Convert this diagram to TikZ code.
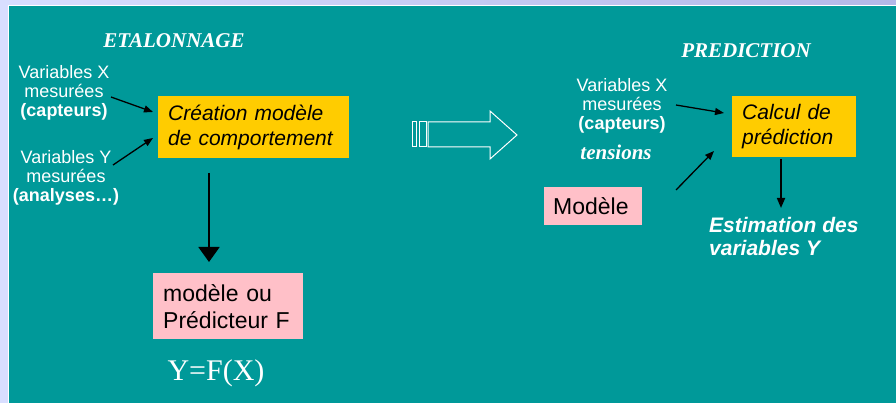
\documentclass[tikz,border=0pt]{standalone}
\usepackage{fontspec}
\setmainfont{Liberation Serif}
\setsansfont{Liberation Sans}
\usetikzlibrary{arrows.meta,calc}
\definecolor{teal0}{HTML}{009999}
\definecolor{lav}{HTML}{D8DEFF}
\definecolor{lavdark}{HTML}{B4B8E8}
\definecolor{ybox}{HTML}{FFCC00}
\definecolor{pbox}{HTML}{FFC0C8}
\tikzset{
  lbl/.style={text=white,font=\sffamily\fontsize{18}{19}\selectfont,align=center,inner sep=0pt},
  ttl/.style={text=white,font=\rmfamily\bfseries\itshape\fontsize{21}{24}\selectfont,inner sep=0pt},
  ybx/.style={fill=ybox,draw=none,anchor=north west,align=left,inner xsep=10pt,inner ysep=0pt,
    font=\sffamily\itshape\fontsize{21}{25}\selectfont,text=black},
  pbx/.style={fill=pbox,draw=none,anchor=north west,align=left,inner xsep=10pt,inner ysep=0pt,
    font=\sffamily\fontsize{23}{27}\selectfont,text=black},
  thin arr/.style={draw=black,line width=1.3pt,-{Triangle[length=9pt,width=7pt]}},
  big arr/.style={draw=black,line width=2pt,-{Triangle[length=15pt,width=21pt]}},
  mid arr/.style={draw=black,line width=1.7pt,-{Triangle[length=10pt,width=8pt]}},
}
\begin{document}
\begin{tikzpicture}[x=1pt,y=-1pt]
\useasboundingbox (0,0) rectangle (896,403);
% background
\fill[lav] (0,0) rectangle (896,403);
\shade[left color=lav,right color=lavdark] (0,0) rectangle (896,5.5);
\fill[white] (8,5) rectangle (896,403);
\fill[teal0] (9,6) rectangle (896,403);

% titles
\node[ttl] (etal) at (174,41) {ETALONNAGE};
\node[ttl] (pred) at (746,51) {PREDICTION};

% left labels
\node[lbl] (lx) at (64,93) {Variables X\\mesurées\\\textbf{(capteurs)}};
\node[lbl] (ly) at (66,178) {Variables Y\\mesurées\\\textbf{(analyses…)}};

% left boxes
\node[ybx,text width=171pt,minimum height=62pt] (crea) at (158,96) {Création modèle\\de comportement};
\node[pbx,text width=130pt,minimum height=66pt] (modf) at (153,273) {modèle ou\\Prédicteur F};
\node[text=white,font=\rmfamily\fontsize{30}{32}\selectfont,inner sep=0pt] (yfx) at (216,373) {Y=F(X)};

% arrows left
\coordinate (a1s) at (111,97);
\coordinate (a1e) at (153,112);
\coordinate (a2s) at (113,165);
\coordinate (a2e) at (153,138);
\draw[thin arr] (a1s) -- (a1e);
\draw[thin arr] (a2s) -- (a2e);
\coordinate (vs) at (209,173);
\coordinate (vt) at (209,262);
\draw[big arr] (vs) -- (vt);

% hollow block arrow
\draw[white,line width=1pt,fill=teal0] (412,122) rectangle (416,147);
\draw[white,line width=1pt,fill=teal0] (419,122) rectangle (426,147);
\draw[white,line width=1pt,fill=teal0] (428,122) -- (490,122) -- (490,111) -- (517,135)
  -- (490,159) -- (490,147) -- (428,147) -- cycle;

% right side
\node[lbl] (rx) at (622,106) {Variables X\\mesurées\\\textbf{(capteurs)}};
\node[ttl] (tens) at (616,152) {tensions};
\node[ybx,text width=104pt,minimum height=61pt] (calc) at (732,96) {Calcul de\\prédiction};
\node[pbx,inner xsep=9pt,text width=80pt,minimum height=38pt] (mod) at (544,187) {Modèle};
\node[text=white,font=\sffamily\bfseries\itshape\fontsize{21}{23.5}\selectfont,align=left,
  inner sep=0pt,anchor=west] (est) at (709,236.5) {Estimation des\\variables Y};

\coordinate (b1s) at (676,105);
\coordinate (b1e) at (724,113);
\coordinate (b2s) at (676,190);
\coordinate (b2e) at (714,151);
\draw[thin arr] (b1s) -- (b1e);
\draw[thin arr] (b2s) -- (b2e);
\coordinate (cs) at (781,159);
\coordinate (ce) at (781,208);
\draw[mid arr] (cs) -- (ce);
\end{tikzpicture}
\end{document}
